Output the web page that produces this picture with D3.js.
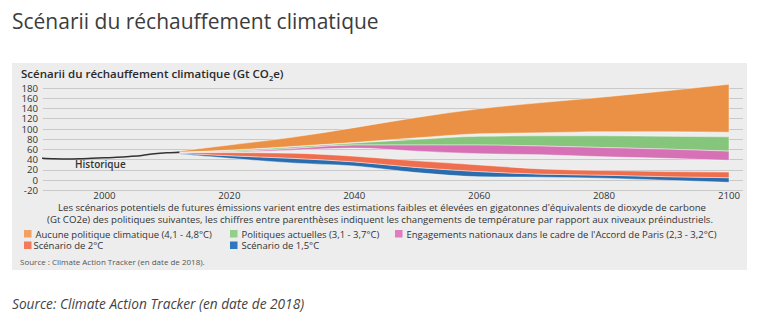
<!DOCTYPE html>
<html><head><meta charset="utf-8">
<script src="https://cdn.jsdelivr.net/npm/d3@7"></script>
<style>
html,body{margin:0;padding:0;background:#fff;}
svg{display:block;font-family:"Open Sans",sans-serif;}
</style></head>
<body>
<svg id="c" width="763" height="325"></svg>
<script>
// ---- data ----
const histYears = [1990,1992,1994,1996,1998,2000,2002,2004,2006,2008,2010,2012];
const histValues = [43,42,41.5,42,43,44,45,46.5,48.5,52,54,55];
const projYears = [2010,2020,2030,2040,2050,2060,2070,2080,2090,2100];
const noPolicyLow  = [54,59,66,74,83,91,93,95,95,94];
const noPolicyHigh = [54,69,84,103,123,140,152,163,175,188];
const currentLow   = [54,56,62,69,69,69,67,64,61,57];
const currentHigh  = [54,58,65,73,80,86,87,87,86,85];
const pledgesLow   = [54,55,59,63,57,52,50,46,43,39];
const pledgesHigh  = [54,56,62,69,69,69,67,64,61,57];
const twoLow       = [54,48,43,36,25,17,12,10,7,5];
const twoHigh      = [54,54,53,47,38,30,22,19,17,16];
const onePointFiveLow  = [54,43,34,28,15,7,6,4,0,-4];
const onePointFiveHigh = [54,48,43,36,25,17,12,10,7,5];
const yTicks = [-20,0,20,40,60,80,100,120,140,160,180];
const xTicks = [2000,2020,2040,2060,2080,2100];
const seriesNames = ["Aucune politique climatique (4,1 - 4,8°C)","Politiques actuelles (3,1 - 3,7°C)","Engagements nationaux dans le cadre de l'Accord de Paris (2,3 - 3,2°C)","Scénario de 2°C","Scénario de 1,5°C"];
const seriesColors = ["#ea9146","#86c57c","#d671b6","#ee6e4e","#2a6cae"];
const legendColors = ["#f0a262","#92d08a","#e07cc0","#f27b5c","#2f78bf"];

const svg = d3.select("#c");
// page title
svg.append("text").attr("x",12).attr("y",29).attr("font-size",21).attr("fill","#3c3c3c").text("Scénarii du réchauffement climatique");
// panel
svg.append("rect").attr("x",12).attr("y",63).attr("width",735).attr("height",207).attr("fill","#ededed");
// chart title
const t = svg.append("text").attr("x",21).attr("y",78).attr("font-size",11.5).attr("font-weight",600).attr("fill","#2a2a2a");
t.append("tspan").text("Scénarii du réchauffement climatique (Gt CO");
t.append("tspan").attr("font-size",7.5).attr("dy",3).text("2");
t.append("tspan").attr("dy",-3).text("e)");

const x = d3.scaleLinear().domain([1990,2100]).range([42,729]);
const y = d3.scaleLinear().domain([-20,180]).range([190.5,88.3]);

// grid
svg.append("g").selectAll("line").data(yTicks).join("line")
  .attr("x1",43).attr("x2",743).attr("y1",d=>y(d)).attr("y2",d=>y(d))
  .attr("stroke","#c9c9c9").attr("stroke-width",1).attr("shape-rendering","crispEdges");
svg.append("g").selectAll("text").data(yTicks).join("text")
  .attr("x",38).attr("y",d=>y(d)+3.4).attr("text-anchor","end").attr("font-size",9.7).attr("fill","#333").text(d=>d);
svg.append("g").selectAll("text").data(xTicks).join("text")
  .attr("x",d=>x(d)).attr("y",198.5).attr("text-anchor","middle").attr("font-size",9.7).attr("fill","#333").text(d=>d);

const bands = [[noPolicyLow,noPolicyHigh],[currentLow,currentHigh],[pledgesLow,pledgesHigh],[onePointFiveLow,onePointFiveHigh],[twoLow,twoHigh]];
const bandColors = [seriesColors[0],seriesColors[1],seriesColors[2],seriesColors[4],seriesColors[3]];
const area = d3.area().x(d=>x(d.yr)).y0(d=>y(d.lo)).y1(d=>y(d.hi)).curve(d3.curveMonotoneX);
bands.forEach((b,i)=>{
  const pts = projYears.map((yr,j)=>({yr,lo:b[0][j],hi:b[1][j]}));
  svg.append("path").datum(pts).attr("d",area).attr("fill",bandColors[i])
    .attr("stroke","#ffffff").attr("stroke-opacity",0.55).attr("stroke-width",0.8);
});
// historic
const line = d3.line().x((d,i)=>x(histYears[i])).y(d=>y(d)).curve(d3.curveMonotoneX);
svg.append("path").datum(histValues).attr("d",line).attr("fill","none").attr("stroke","#333").attr("stroke-width",1.5);
svg.append("text").attr("x",75).attr("y",168).attr("font-size",10).attr("font-weight",600).attr("fill","#333").text("Historique");

// description
svg.append("text").attr("x",382).attr("y",211).attr("text-anchor","middle").attr("font-size",9.65).attr("fill","#333")
  .text("Les scénarios potentiels de futures émissions varient entre des estimations faibles et élevées en gigatonnes d'équivalents de dioxyde de carbone");
svg.append("text").attr("x",380).attr("y",223).attr("text-anchor","middle").attr("font-size",9.65).attr("fill","#333")
  .text("(Gt CO2e) des politiques suivantes, les chiffres entre parenthèses indiquent les changements de température par rapport aux niveaux préindustriels.");

// legend
const legPos = [[24,234],[230,234],[395,234],[24,245.5],[230,245.5]];
legPos.forEach((p,i)=>{
  svg.append("rect").attr("x",p[0]).attr("y",p[1]-4).attr("width",7.5).attr("height",7.5).attr("fill",legendColors[i]);
  svg.append("text").attr("x",p[0]+(i===3?9.5:11.5)).attr("y",p[1]+3.5).attr("font-size",9.5).attr("fill","#333").text(seriesNames[i]);
});
svg.append("text").attr("x",20).attr("y",265).attr("font-size",8).attr("fill","#555").text("Source : Climate Action Tracker (en date de 2018).");

// footer
svg.append("text").attr("x",12).attr("y",309).attr("font-size",13.7).attr("font-style","italic").attr("fill","#444").text("Source: Climate Action Tracker (en date de 2018)");
</script>
</body></html>
